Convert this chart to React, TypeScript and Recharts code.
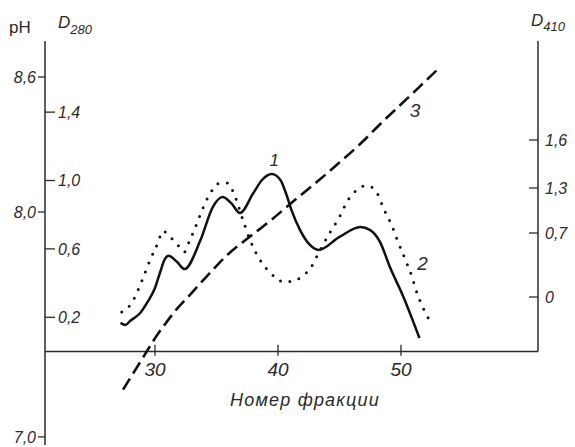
import React from 'react';
import { ComposedChart, Line, XAxis, YAxis, ReferenceLine, ReferenceDot } from 'recharts';

// ---- data ----
// curve 1 (solid): D280 vs fraction number
const curve1Fraction = [27.2, 27.6, 28.0, 28.8, 29.4, 30.0, 30.4, 30.8, 31.1, 31.8, 32.4, 33.7, 34.7, 35.5, 36.2, 36.9, 38.0, 38.7, 39.5, 40.2, 40.7, 41.1, 41.8, 42.6, 43.3, 45.0, 46.7, 47.5, 48.3, 49.1, 50.2, 51.5];
const curve1D280 = [0.167, 0.155, 0.18, 0.225, 0.29, 0.371, 0.459, 0.54, 0.56, 0.523, 0.482, 0.652, 0.845, 0.904, 0.868, 0.81, 0.927, 1.003, 1.038, 1.003, 0.915, 0.827, 0.71, 0.623, 0.594, 0.67, 0.728, 0.71, 0.64, 0.494, 0.319, 0.079];

// curve 2 (dotted): D410 (in right-axis drawing units) vs fraction number
const curve2Fraction = [27.3, 28.1, 28.9, 29.6, 30.3, 30.6, 31.4, 32.0, 32.4, 32.8, 33.2, 33.8, 34.5, 35.3, 35.9, 36.4, 37.1, 37.7, 38.7, 39.4, 40.5, 41.2, 41.9, 42.7, 43.3, 44.2, 45.0, 45.6, 46.5, 47.0, 47.6, 48.1, 48.6, 49.2, 49.7, 50.3, 50.9, 51.3, 51.8, 52.4];
const curve2D410 = [-0.15, -0.06, 0.15, 0.37, 0.56, 0.66, 0.58, 0.5, 0.45, 0.56, 0.67, 0.86, 1.04, 1.14, 1.14, 1.04, 0.79, 0.58, 0.34, 0.24, 0.15, 0.16, 0.2, 0.3, 0.44, 0.64, 0.8, 0.95, 1.08, 1.11, 1.1, 1.03, 0.88, 0.73, 0.57, 0.39, 0.2, 0.04, -0.11, -0.25];

// curve 3 (dashed): pH vs fraction number
const curve3Fraction = [27.4, 28.2, 29.0, 29.9, 30.8, 31.8, 32.9, 34.4, 35.9, 37.6, 39.4, 41.2, 43.2, 44.9, 46.7, 48.3, 49.9, 51.5, 53.1];
const curve3PH = [7.21, 7.28, 7.35, 7.43, 7.5, 7.57, 7.635, 7.725, 7.81, 7.885, 7.962, 8.045, 8.135, 8.215, 8.303, 8.39, 8.473, 8.556, 8.64];

// ticks
const xTicks = [30, 40, 50];
const phTicks = [7.0, 8.0, 8.6];
const d280Ticks = [0.2, 0.6, 1.0, 1.4];
const d410TickPositions = [0, 0.64, 1.09, 1.57];
const d410TickLabels = ['0', '0,7', '1,3', '1,6'];

// axis domains
const xDomain = [21.06, 61.14];
const phDomain = [6.964, 8.76];
const d280Domain = [-0.547, 1.816];
const d410Domain = [-1.48, 2.56];

const curve1Data = curve1Fraction.map((f, i) => ({ f, v: curve1D280[i] }));
const curve2Data = curve2Fraction.map((f, i) => ({ f, v: curve2D410[i] }));
const curve3Data = curve3Fraction.map((f, i) => ({ f, v: curve3PH[i] }));

const INK = '#2a2a2a';
const FONT = "'Liberation Sans', Arial, sans-serif";
const comma = (v: number) => v.toFixed(1).replace('.', ',');

const textStyle = { fontFamily: FONT, fontStyle: 'italic' as const, fill: INK };

function PhTick(props: any) {
  const { x, y, payload } = props;
  return (
    <g>
      <line x1={x - 7} x2={x} y1={y} y2={y} stroke={INK} strokeWidth={1.3} />
      <text x={x - 9} y={y} dy="0.36em" textAnchor="end" fontSize={16} {...textStyle}>
        {comma(payload.value)}
      </text>
    </g>
  );
}

function D280Tick(props: any) {
  const { x, y, payload } = props;
  return (
    <g>
      <line x1={x} x2={x + 10} y1={y} y2={y} stroke={INK} strokeWidth={1.3} />
      <text x={x + 13} y={y} dy="0.36em" textAnchor="start" fontSize={16} {...textStyle}>
        {comma(payload.value)}
      </text>
    </g>
  );
}

function D410Tick(props: any) {
  const { x, y, payload } = props;
  const idx = d410TickPositions.indexOf(payload.value);
  return (
    <g>
      <line x1={x - 9} x2={x} y1={y} y2={y} stroke={INK} strokeWidth={1.3} />
      <text x={x + 7} y={y} dy="0.36em" textAnchor="start" fontSize={16} {...textStyle}>
        {d410TickLabels[idx]}
      </text>
    </g>
  );
}

export default function App() {
  return (
    <div style={{ position: 'absolute', left: 0, top: 0, width: 575, height: 447, background: '#fff' }}>
      <ComposedChart width={575} height={447} margin={{ top: 41, right: 0, bottom: 2, left: 0 }}>
        <XAxis xAxisId="x" type="number" dataKey="f" domain={xDomain} hide allowDataOverflow />
        <YAxis
          yAxisId="ph"
          orientation="left"
          width={45}
          type="number"
          domain={phDomain}
          ticks={phTicks}
          interval={0}
          tick={(p: any) => <PhTick {...p} />}
          tickLine={false}
          tickSize={0}
          tickMargin={0}
          axisLine={{ stroke: INK, strokeWidth: 1.5 }}
          allowDataOverflow
        />
        <YAxis
          yAxisId="d280"
          orientation="left"
          mirror
          width={40}
          type="number"
          domain={d280Domain}
          ticks={d280Ticks}
          interval={0}
          tick={(p: any) => <D280Tick {...p} />}
          tickLine={false}
          tickSize={0}
          tickMargin={0}
          axisLine={false}
          allowDataOverflow
        />
        <YAxis
          yAxisId="d410"
          orientation="right"
          width={37}
          type="number"
          domain={d410Domain}
          ticks={d410TickPositions}
          interval={0}
          tick={(p: any) => <D410Tick {...p} />}
          tickLine={false}
          tickSize={0}
          tickMargin={0}
          axisLine={false}
          allowDataOverflow
        />

        {/* abscissa line at D280 = 0 */}
        <ReferenceLine xAxisId="x" yAxisId="d280" y={0} stroke={INK} strokeWidth={1.5} ifOverflow="visible" />
        {/* right axis line */}
        <ReferenceLine
          xAxisId="x"
          yAxisId="d280"
          segment={[{ x: xDomain[1], y: 0 }, { x: xDomain[1], y: d280Domain[1] }]}
          stroke={INK}
          strokeWidth={1.5}
          ifOverflow="visible"
        />
        {xTicks.map((t) => (
          <ReferenceLine
            key={t}
            xAxisId="x"
            yAxisId="d280"
            segment={[{ x: t, y: -0.025 }, { x: t, y: 0.04 }]}
            stroke={INK}
            strokeWidth={1.3}
            ifOverflow="visible"
            label={{ value: String(t), position: 'bottom', offset: 7, fontSize: 19, ...textStyle }}
          />
        ))}

        <Line
          xAxisId="x"
          yAxisId="d410"
          data={curve2Data}
          dataKey="v"
          type="monotone"
          stroke="#111"
          strokeWidth={3}
          strokeDasharray="0 9.5"
          strokeLinecap="round"
          dot={false}
          activeDot={false}
          isAnimationActive={false}
        />
        <Line
          xAxisId="x"
          yAxisId="ph"
          data={curve3Data}
          dataKey="v"
          type="monotone"
          stroke="#111"
          strokeWidth={2.6}
          strokeDasharray="13 6"
          dot={false}
          activeDot={false}
          isAnimationActive={false}
        />
        <Line
          xAxisId="x"
          yAxisId="d280"
          data={curve1Data}
          dataKey="v"
          type="monotone"
          stroke="#111"
          strokeWidth={2.5}
          dot={false}
          activeDot={false}
          isAnimationActive={false}
        />

        {/* curve labels and axis title */}
        <ReferenceDot xAxisId="x" yAxisId="d280" x={39.7} y={1.12} r={0} stroke="none" fill="none" ifOverflow="visible"
          label={{ value: '1', position: 'center', fontSize: 17, ...textStyle }} />
        <ReferenceDot xAxisId="x" yAxisId="d280" x={51.76} y={0.518} r={0} stroke="none" fill="none" ifOverflow="visible"
          label={{ value: '2', position: 'center', fontSize: 19, ...textStyle }} />
        <ReferenceDot xAxisId="x" yAxisId="d280" x={51.14} y={1.412} r={0} stroke="none" fill="none" ifOverflow="visible"
          label={{ value: '3', position: 'center', fontSize: 19, ...textStyle }} />
        <ReferenceDot xAxisId="x" yAxisId="d280" x={42.2} y={-0.284} r={0} stroke="none" fill="none" ifOverflow="visible"
          label={{ value: 'Номер фракции', position: 'center', fontSize: 18, letterSpacing: 1.2, ...textStyle }} />
      </ComposedChart>

      {/* axis headers */}
      <div style={{ position: 'absolute', left: 9, top: 19, fontFamily: FONT, fontSize: 17, lineHeight: '17px', color: INK }}>pH</div>
      <div style={{ position: 'absolute', left: 58, top: 14, fontFamily: FONT, fontStyle: 'italic', fontSize: 17, lineHeight: '17px', color: INK, whiteSpace: 'nowrap' }}>
        D<span style={{ fontSize: 13, position: 'relative', top: 6 }}>280</span>
      </div>
      <div style={{ position: 'absolute', left: 531, top: 12, fontFamily: FONT, fontStyle: 'italic', fontSize: 17, lineHeight: '17px', color: INK, whiteSpace: 'nowrap' }}>
        D<span style={{ fontSize: 13, position: 'relative', top: 5 }}>410</span>
      </div>
    </div>
  );
}
